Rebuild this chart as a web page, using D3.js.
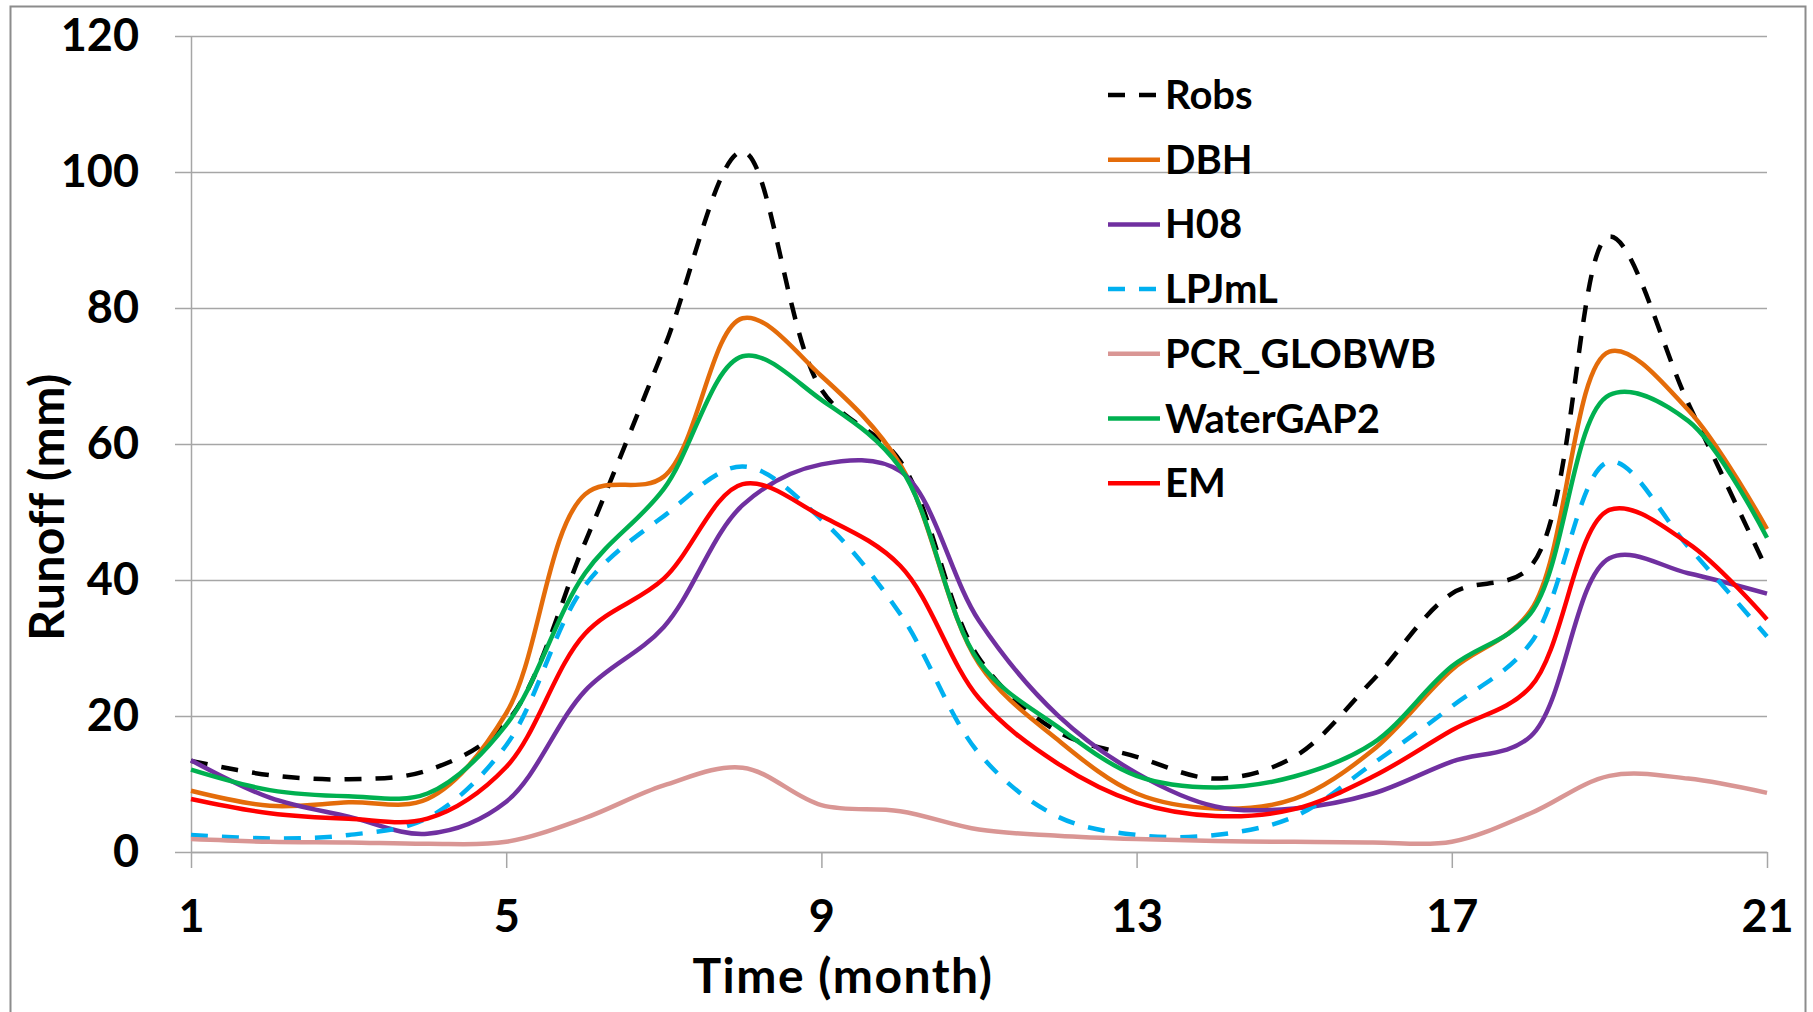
<!DOCTYPE html>
<html>
<head>
<meta charset="utf-8">
<script src="https://cdn.jsdelivr.net/npm/d3@7"></script>
<style>
  body { margin: 0; background: #fff; }
  svg { display: block; font-family: Lato, 'Open Sans', sans-serif; font-weight: bold; }
</style>
</head>
<body>
<svg></svg>
<script>
// Data
const months = [1, 2, 3, 4, 5, 6, 7, 8, 9, 10, 11, 12, 13, 14, 15, 16, 17, 18, 19, 20, 21];
const xTicks = [1, 5, 9, 13, 17, 21];
const yTicks = [0, 20, 40, 60, 80, 100, 120];

const robs     = [13.4, 11.3, 10.7, 12.0, 19.0, 45.5, 74.0, 103.0, 68.0, 57.5, 28.5, 17.7, 14.0, 10.8, 14.0, 25.3, 38.0, 42.0, 90.5, 66.0, 41.5];
const dbh      = [9.0, 6.8, 7.3, 7.8, 20.4, 52.6, 55.2, 78.5, 70.0, 57.0, 27.7, 16.5, 8.6, 6.4, 7.8, 15.0, 26.8, 35.5, 73.6, 65.0, 47.5];
const h08      = [13.5, 8.0, 5.2, 2.7, 7.4, 23.7, 33.1, 51.0, 57.0, 56.0, 34.0, 20.1, 11.6, 6.7, 6.4, 8.6, 13.3, 17.0, 43.2, 41.0, 38.0];
const lpjml    = [2.5, 2.0, 2.5, 5.0, 15.7, 39.2, 49.4, 56.7, 48.9, 35.0, 14.5, 5.2, 2.5, 2.5, 5.2, 13.0, 21.4, 30.7, 57.4, 44.9, 31.7];
const pcr      = [1.9, 1.5, 1.4, 1.2, 1.5, 5.0, 9.8, 12.4, 6.9, 6.0, 3.3, 2.4, 1.9, 1.6, 1.5, 1.4, 1.5, 5.7, 11.2, 10.8, 8.7];
const watergap = [12.1, 9.1, 8.2, 8.6, 18.7, 41.0, 53.4, 72.9, 66.5, 56.5, 28.0, 18.4, 11.2, 9.5, 11.1, 16.0, 27.3, 35.1, 67.2, 63.4, 46.2];
const em       = [7.8, 5.7, 4.9, 4.9, 12.5, 32.1, 40.2, 54.1, 49.4, 42.1, 22.6, 13.0, 7.3, 5.3, 6.3, 11.1, 17.9, 24.3, 50.3, 45.4, 34.2];

const series = [
  { name: 'Robs',       values: robs,     color: '#000000', dash: true },
  { name: 'DBH',        values: dbh,      color: '#E46C0A', dash: false },
  { name: 'H08',        values: h08,      color: '#7030A0', dash: false },
  { name: 'LPJmL',      values: lpjml,    color: '#00B0F0', dash: true },
  { name: 'PCR_GLOBWB', values: pcr,      color: '#D99694', dash: false },
  { name: 'WaterGAP2',  values: watergap, color: '#00B050', dash: false },
  { name: 'EM',         values: em,       color: '#FF0000', dash: false }
];

let w = 1813;
let h = 1012;
const pLeft = 191, pRight = 1767, pTop = 36, pBottom = 852;
const gridColor = '#a6a6a6';

const svg = d3.select('svg')
  .attr('width', w)
  .attr('height', h)

// frame round the figure
svg.append('rect')
  .attr('x', 10.5)
  .attr('y', 6.5)
  .attr('width', 1795)
  .attr('height', 1020)
  .attr('fill', 'none')
  .attr('stroke', '#8c8c8c')
  .attr('stroke-width', 2)

// Scales
const xScale = d3.scaleLinear()
  .domain([1, 21])
  .range([pLeft, pRight])

const yScale = d3.scaleLinear()
  .domain([0, 120])
  .range([pBottom, pTop])

// Gridlines
svg.append('g')
  .attr('transform', 'translate(' + pLeft + ',0)')
  .call(d3.axisLeft(yScale).tickValues(yTicks).tickSize(-(pRight - pLeft)).tickFormat(''))
  .call(g => g.select('.domain').remove())
  .call(g => g.selectAll('line')
    .attr('x1', -16)
    .attr('stroke', gridColor)
    .attr('stroke-width', 1.5))

// Axes
svg.append('g')
  .attr('transform', 'translate(' + pLeft + ',0)')
  .call(d3.axisLeft(yScale).tickValues(yTicks).tickSize(0).tickSizeOuter(0).tickPadding(52))
  .call(g => g.select('.domain').attr('stroke', gridColor).attr('stroke-width', 1.5))
  .call(g => g.selectAll('text')
    .attr('font-size', 45)
    .attr('font-family', 'Lato')
    .attr('font-weight', 'bold')
    .attr('fill', '#000'))

svg.append('g')
  .attr('transform', 'translate(0,' + pBottom + ')')
  .call(d3.axisBottom(xScale).tickValues(xTicks).tickSize(16).tickSizeOuter(0).tickFormat(d => String(d)))
  .call(g => g.select('.domain').attr('stroke', gridColor).attr('stroke-width', 1.5))
  .call(g => g.selectAll('line').attr('stroke', gridColor).attr('stroke-width', 1.5))
  .call(g => g.selectAll('text')
    .attr('y', 80)
    .attr('dy', 0)
    .attr('font-size', 45)
    .attr('font-family', 'Lato')
    .attr('font-weight', 'bold')
    .attr('fill', '#000'))

// Lines
const line = d3.line()
  .x((d, i) => xScale(months[i]))
  .y(d => yScale(d))
  .curve(d3.curveCatmullRom.alpha(0.5))

svg.append('g')
  .selectAll('path')
  .data(series)
  .enter()
  .append('path')
  .attr('d', d => line(d.values))
  .attr('fill', 'none')
  .attr('stroke', d => d.color)
  .attr('stroke-width', 4.5)
  .attr('stroke-dasharray', d => d.dash ? '17,14' : null)
  .attr('stroke-linejoin', 'round')

// Axis titles
svg.append('text')
  .attr('x', 843)
  .attr('y', 993)
  .attr('text-anchor', 'middle')
  .attr('font-size', 48)
  .attr('letter-spacing', 1.5)
  .text('Time (month)')

svg.append('text')
  .attr('transform', 'translate(64,507) rotate(-90)')
  .attr('text-anchor', 'middle')
  .attr('font-size', 48)
  .attr('letter-spacing', 0.5)
  .text('Runoff (mm)')

// Legend
const legend = svg.append('g')
  .selectAll('g')
  .data(series)
  .enter()
  .append('g')
  .attr('transform', (d, i) => 'translate(1108,' + (95 + i * 64.7) + ')')

legend.append('line')
  .attr('x1', 0)
  .attr('x2', 52)
  .attr('stroke', d => d.color)
  .attr('stroke-width', 4.5)
  .attr('stroke-dasharray', d => d.dash ? '17,14' : null)

legend.append('text')
  .attr('x', 57)
  .attr('y', 14)
  .attr('font-size', 40)
  .text(d => d.name)
</script>
</body>
</html>
